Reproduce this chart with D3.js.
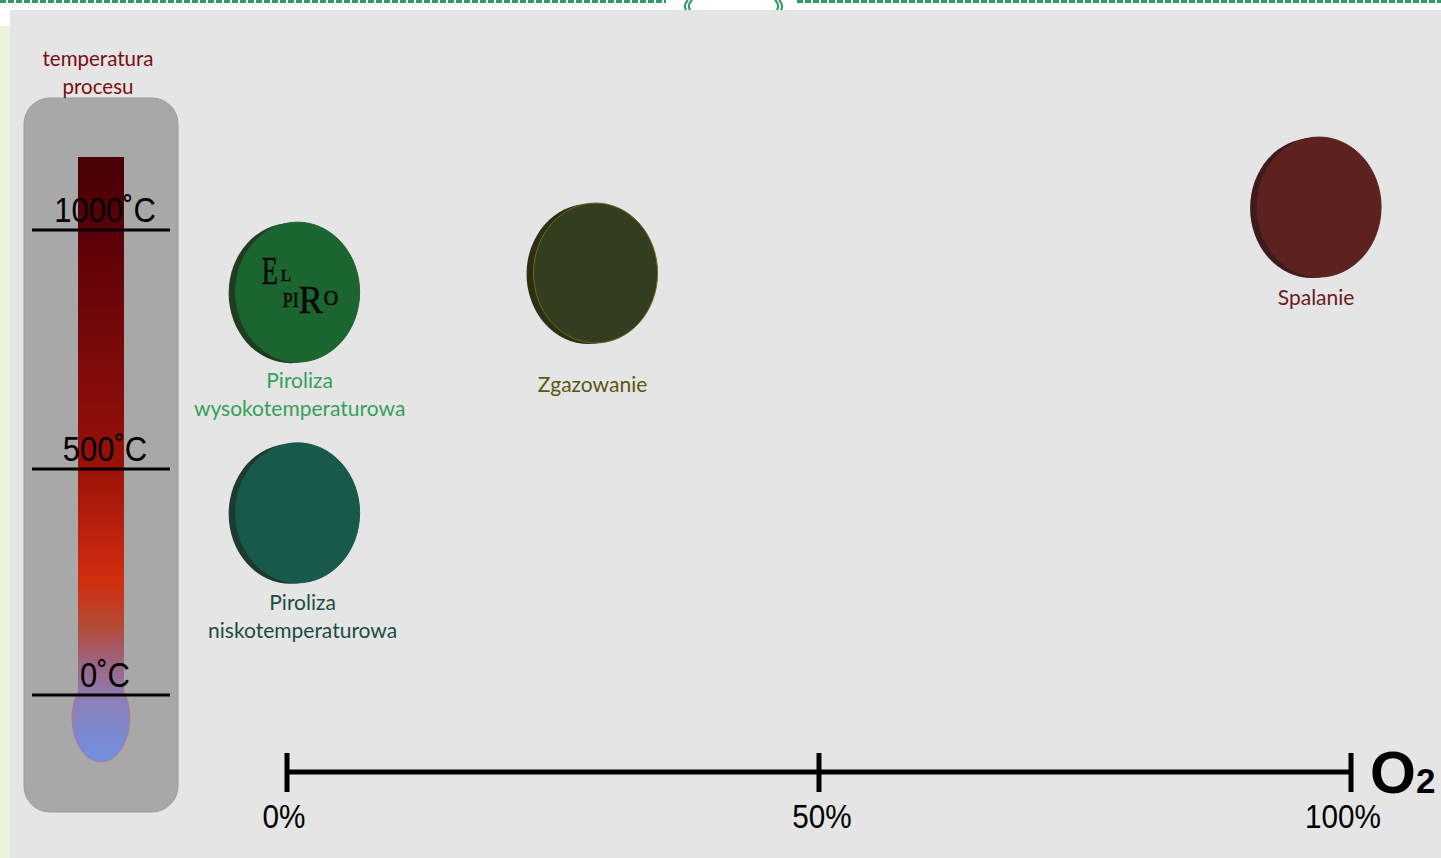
<!DOCTYPE html>
<html><head><meta charset="utf-8">
<script src="https://cdn.jsdelivr.net/npm/d3@7"></script>
<style>
html,body{margin:0;padding:0;background:#fff;overflow:hidden}
svg{display:block}
</style></head>
<body>
<svg id="chart" width="1441" height="858"></svg>
<script>
// ---- data ----
const categories = ["Piroliza niskotemperaturowa", "Piroliza wysokotemperaturowa", "Zgazowanie", "Spalanie"];
const labelLines = [["Piroliza", "niskotemperaturowa"], ["Piroliza", "wysokotemperaturowa"], ["Zgazowanie"], ["Spalanie"]];
const oxygenPct = [1, 1, 29, 97];          // % O2
const temperatureC = [403, 870, 910, 1048]; // process temperature °C
const oxygenTicks = [0, 50, 100];
const oxygenTickLabels = ["0%", "50%", "100%"];
const tempTicks = [0, 500, 1000];
const tempTickLabels = ["0˚C", "500˚C", "1000˚C"];

// ---- styles ----
const frontColors = ["#175a4b", "#1b6530", "#333d1f", "#5d221f"];
const backColors  = ["#1c3a2f", "#203d1f", "#2e2e12", "#3c1b1a"];
const edgeColors  = ["#175a4b", "#1b6530", "#6b6b1e", "#5d221f"];
const labelColors = ["#1c4d40", "#35a05a", "#58580f", "#6b1c1c"];
const layout = { labelGap: [97, 96, 119, 98], labelDx: [5, 2, -3, -3], tickDx: [-3, 3, -8], rx: 62, ry: 70 };
const narrow = "'Liberation Sans', Arial, sans-serif";

const svg = d3.select("#chart");

// background
svg.append("rect").attr("x", 0).attr("y", 0).attr("width", 1441).attr("height", 858).attr("fill", "#ffffff");
svg.append("rect").attr("x", 10).attr("y", 10).attr("width", 1431).attr("height", 848).attr("fill", "#e5e5e5");
svg.append("rect").attr("x", 0).attr("y", 26).attr("width", 10).attr("height", 832).attr("fill", "#e9f4da");

// top decoration
const deco = svg.append("g").attr("stroke", "#2f9a62").attr("fill", "none");
deco.append("line").attr("x1", 0).attr("x2", 666).attr("y1", 1.5).attr("y2", 1.5).attr("stroke-width", 3).attr("stroke-dasharray", "6,2");
deco.append("line").attr("x1", 797).attr("x2", 1441).attr("y1", 1.5).attr("y2", 1.5).attr("stroke-width", 3).attr("stroke-dasharray", "6,2");
deco.append("path").attr("d", "M688,0 Q683,5 686,10 M692,0 Q687,5 690,10").attr("stroke-width", 2.2);
deco.append("path").attr("d", "M775,0 Q780,5 777,10 M779,0 Q784,5 781,10").attr("stroke-width", 2.2);

// scales
const x = d3.scaleLinear().domain([0, 100]).range([287, 1351]);
const y = d3.scaleLinear().domain([0, 500, 1000]).range([695, 469, 230]);

// condensed text helper
function narrowText(parent, tx, ty, str, size, sx) {
  return parent.append("g").attr("transform", `translate(${tx},${ty})`)
    .append("text").attr("transform", `scale(${sx},1)`).attr("text-anchor", "middle")
    .attr("font-family", narrow).attr("font-size", size).attr("fill", "#000").text(str);
}

// ---- thermometer ----
const defs = svg.append("defs");
const grad = defs.append("linearGradient").attr("id", "tube").attr("x1", 0).attr("x2", 0).attr("gradientUnits", "userSpaceOnUse")
  .attr("y1", 157).attr("y2", 762);
[[157, "#480006"], [230, "#5a0008"], [350, "#7a0a0a"], [460, "#981008"], [580, "#d22c0f"], [625, "#b44a34"], [665, "#9a6585"], [700, "#8c80b8"], [762, "#7090e2"]]
  .forEach(([o, c]) => grad.append("stop").attr("offset", (o - 157) / (762 - 157)).attr("stop-color", c));

svg.append("rect").attr("x", 24).attr("y", 98).attr("width", 154).attr("height", 714).attr("rx", 26)
  .attr("fill", "#a8a8a8").attr("stroke", "#9c9c9c").attr("stroke-width", 1);
svg.append("rect").attr("x", 78).attr("y", 157).attr("width", 46).attr("height", 545).attr("fill", "url(#tube)");
svg.append("ellipse").attr("cx", 101).attr("cy", 718).attr("rx", 29).attr("ry", 44).attr("fill", "url(#tube)")
  .attr("stroke", "#c07080").attr("stroke-width", 0.8);
svg.append("rect").attr("x", 78).attr("y", 680).attr("width", 46).attr("height", 30).attr("fill", "url(#tube)");

const title = svg.append("text").attr("text-anchor", "middle")
  .attr("font-family", "Lato, 'Open Sans', sans-serif").attr("font-size", 20.5).attr("fill", "#7a0e14");
title.append("tspan").attr("x", 98).attr("y", 66).text("temperatura");
title.append("tspan").attr("x", 98).attr("y", 94).text("procesu");

const tg = svg.append("g");
tempTicks.forEach((t, i) => {
  tg.append("line").attr("x1", 32).attr("x2", 170).attr("y1", y(t)).attr("y2", y(t))
    .attr("stroke", "#000").attr("stroke-width", 3);
  narrowText(tg, 105, y(t) - 8, tempTickLabels[i], 36, 0.86);
});

// ---- discs ----
const discs = svg.append("g");
categories.forEach((c, i) => {
  const cx = x(oxygenPct[i]), cy = y(temperatureC[i]);
  const g = discs.append("g");
  g.append("ellipse").attr("cx", cx - 7).attr("cy", cy + 1).attr("rx", layout.rx).attr("ry", layout.ry).attr("fill", backColors[i]);
  g.append("ellipse").attr("cx", cx).attr("cy", cy).attr("rx", layout.rx).attr("ry", layout.ry)
    .attr("fill", frontColors[i]).attr("stroke", edgeColors[i]).attr("stroke-width", 1);
  const t = g.append("text").attr("text-anchor", "middle").attr("font-family", "Lato, 'Open Sans', sans-serif")
    .attr("font-size", 21).attr("fill", labelColors[i]);
  labelLines[i].forEach((ln, j) => {
    t.append("tspan").attr("x", cx + layout.labelDx[i]).attr("y", cy + layout.labelGap[i] + j * 28).text(ln);
  });
});

// ELPIRO logo on high-temperature pyrolysis disc (letters individually condensed)
(function () {
  const cx = x(oxygenPct[1]), cy = y(temperatureC[1]);
  const lg = svg.append("g").attr("font-family", "'Liberation Serif', 'DejaVu Serif', serif").attr("fill", "#0a0a0a")
    .attr("stroke", "#0a0a0a").attr("stroke-width", 0.6);
  [["E", -36, -8, 40, 0.66], ["L", -17, -11, 17, 1], ["PI", -15, 15, 20, 0.9], ["R", 1, 21, 40, 0.9], ["O", 26, 13, 20, 1]]
    .forEach(([s, dx, dy, fs, sx]) => {
      lg.append("g").attr("transform", `translate(${cx + dx},${cy + dy})`)
        .append("text").attr("transform", `scale(${sx},1)`).attr("font-size", fs).text(s);
    });
})();

// ---- oxygen axis ----
const ax = svg.append("g");
ax.append("line").attr("x1", x(0)).attr("x2", x(100)).attr("y1", 772).attr("y2", 772).attr("stroke", "#000").attr("stroke-width", 5);
oxygenTicks.forEach((t, i) => {
  ax.append("line").attr("x1", x(t)).attr("x2", x(t)).attr("y1", 753).attr("y2", 792).attr("stroke", "#000").attr("stroke-width", 5);
  narrowText(ax, x(t) + layout.tickDx[i], 828, oxygenTickLabels[i], 33, 0.9);
});
const o2 = ax.append("text").attr("x", x(100) + 19).attr("y", 793).attr("font-family", "'Liberation Sans', Arial, sans-serif")
  .attr("font-weight", "bold").attr("fill", "#000");
o2.append("tspan").attr("font-size", 59).text("O");
o2.append("tspan").attr("font-size", 35).text("2");
</script>
</body></html>
